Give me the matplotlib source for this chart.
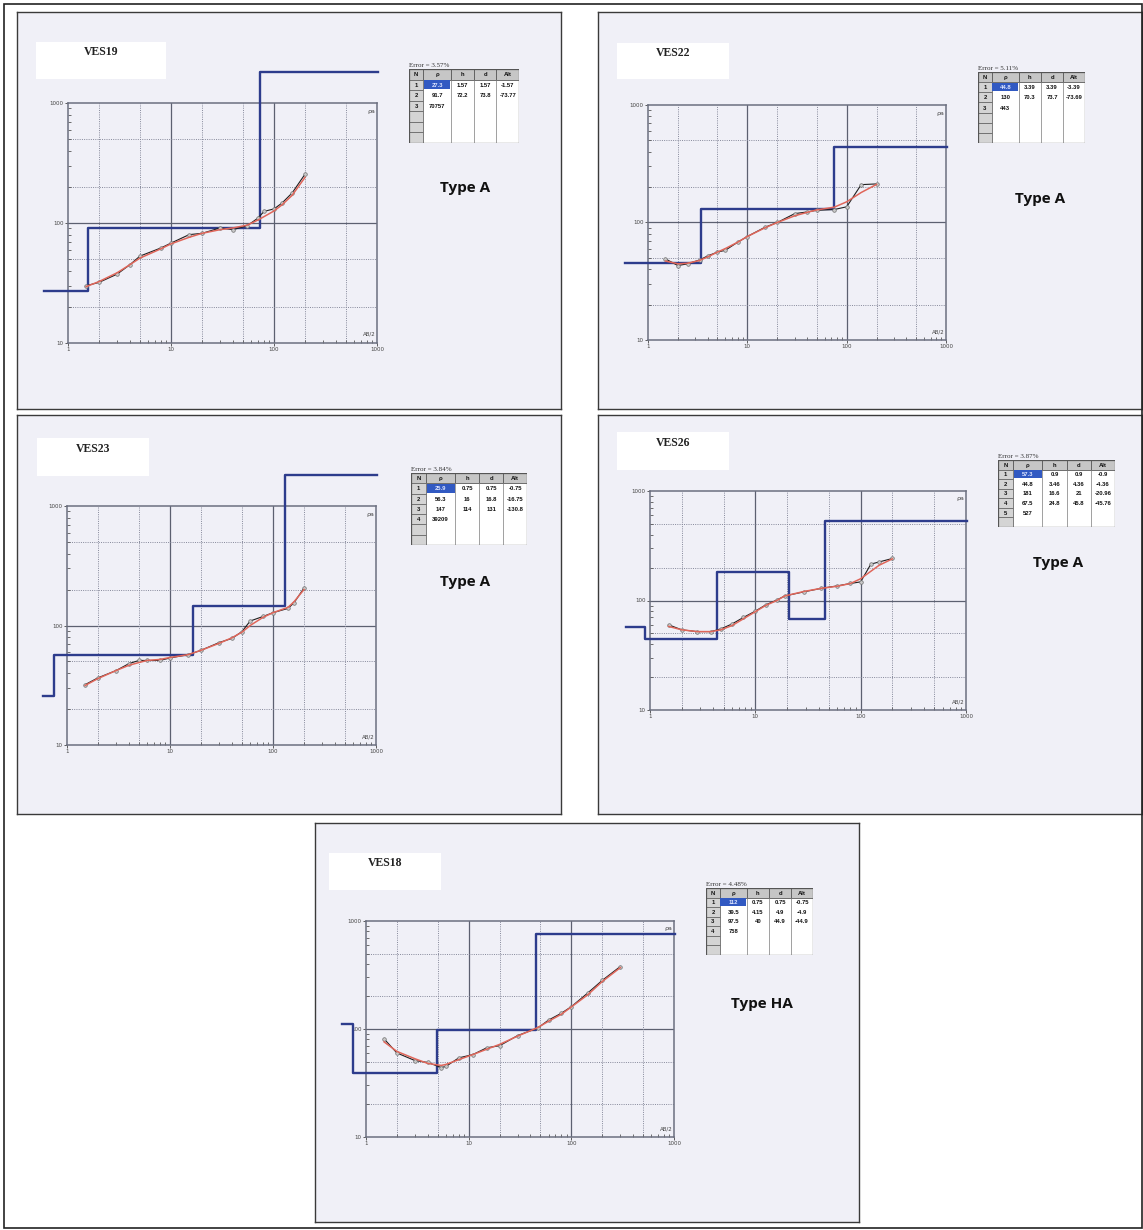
import numpy as np
import matplotlib
matplotlib.use("Agg")
import matplotlib.pyplot as plt
from matplotlib.patches import Rectangle
from matplotlib.ticker import LogLocator, NullFormatter

# ---------------- data ----------------
x_tick_vals = [1, 10, 100, 1000]
x_tick_labels = ["1", "10", "100", "1000"]
y_tick_vals = [10, 100, 1000]
y_tick_labels = ["10", "100", "1000"]
table_header = ["N", "ρ", "h", "d", "Alt"]

# VES19
ves19_ab2 = [1.5, 2, 3, 4, 5, 8, 10, 15, 20, 30, 40, 55, 70, 80, 100, 120, 150, 200]
ves19_field = [30, 32, 37.5, 45, 53, 62, 68, 80, 82, 91, 88, 95, 110, 125, 131, 147, 178, 255]
ves19_fit = [29.5, 32.5, 38.5, 45, 51, 61, 67, 76, 82, 88, 91, 96, 106, 113, 126, 142, 170, 240]
ves19_rho = [27.3, 91.7, 70757]
ves19_h = [1.57, 72.2]
ves19_d = [1.57, 73.8]
ves19_alt = [-1.57, -73.77]
ves19_error = 3.57
ves19_type = "Type A"

# VES22
ves22_ab2 = [1.5, 2, 2.5, 3.3, 4, 5, 6, 8, 10, 15, 20, 30, 40, 50, 75, 100, 140, 200]
ves22_field = [49, 43, 44.5, 48, 52, 56, 58, 68, 76, 91, 100, 119, 123, 127, 129, 136, 210, 213]
ves22_fit = [47, 44.5, 45, 47.5, 51, 56, 60, 68, 76, 90, 100, 114, 122, 128, 135, 150, 180, 211]
ves22_rho = [44.8, 130, 443]
ves22_h = [3.39, 70.3]
ves22_d = [3.39, 73.7]
ves22_alt = [-3.39, -73.69]
ves22_error = 5.11
ves22_type = "Type A"

# VES23
ves23_ab2 = [1.5, 2, 3, 4, 5, 6, 8, 10, 15, 20, 30, 40, 50, 60, 80, 100, 140, 160, 200]
ves23_field = [32, 36.5, 42, 48, 51, 51, 51, 53.5, 57, 62, 72, 78, 89, 109, 119, 128, 139, 155, 206]
ves23_fit = [31.5, 36, 42, 46.5, 49, 51, 52, 54, 57, 62, 71, 79, 88, 100, 117, 128, 142, 158, 200]
ves23_rho = [25.9, 56.3, 147, 39209]
ves23_h = [0.75, 16, 114]
ves23_d = [0.75, 16.8, 131]
ves23_alt = [-0.75, -16.75, -130.8]
ves23_error = 3.84
ves23_type = "Type A"

# VES26
ves26_ab2 = [1.5, 2, 2.8, 3.8, 4.7, 6, 7.7, 10, 12.5, 16, 19, 29, 42, 60, 80, 100, 125, 150, 200]
ves26_field = [60, 54, 52, 52, 55, 61, 70, 80, 91, 101, 110, 120, 129, 136, 143, 148, 215, 225, 242]
ves26_fit = [58, 54, 52, 52, 54, 59, 68, 79, 90, 100, 110, 121, 129, 135, 143, 158, 185, 210, 240]
ves26_rho = [57.3, 44.8, 181, 67.5, 527]
ves26_h = [0.9, 3.46, 16.6, 24.8]
ves26_d = [0.9, 4.36, 21, 45.8]
ves26_alt = [-0.9, -4.36, -20.96, -45.76]
ves26_error = 3.87
ves26_type = "Type A"

# VES18
ves18_ab2 = [1.5, 2, 3, 4, 5.4, 6, 8, 11, 15, 20, 30, 47, 60, 80, 100, 145, 200, 300]
ves18_field = [81, 60, 51, 49, 44, 45, 54, 58, 67, 70, 87, 102, 121, 140, 161, 216, 282, 379]
ves18_fit = [76, 62, 53, 48, 46, 47, 52, 58, 65, 72, 86, 103, 118, 137, 160, 208, 275, 370]
ves18_rho = [112, 39.5, 97.5, 758]
ves18_h = [0.75, 4.15, 40]
ves18_d = [0.75, 4.9, 44.9]
ves18_alt = [-0.75, -4.9, -44.9]
ves18_error = 4.48
ves18_type = "Type HA"

# model-line display extent (the software clips the last half-space)
MODEL_X_START = 0.59
MODEL_X_END = 1030
MODEL_RHO_CAP = 1800

# ---------------- style ----------------
W, H = 1143, 1230
PAPER = "#f0f0f7"
BLUE = "#2d3c8c"
RED = "#e0665a"
SPINE = "#6c7080"
GRID_SOLID = "#5c6070"
GRID_DOT = "#85889a"

fig = plt.figure(figsize=(W / 100, H / 100), dpi=100)
fig.patch.set_facecolor("white")


def fbox(x0, y0, x1, y1):
    return [x0 / W, 1 - y1 / H, (x1 - x0) / W, (y1 - y0) / H]


def fmt(v):
    return f"{v:g}"


def draw_panel(name, ab2, field, fit, rho, thick, depth, alt, err, vtype,
               pbox, abox, lbox, tbox, tpos):
    # panel (scanned sheet)
    bg = fig.add_axes(fbox(*pbox))
    bg.set_facecolor(PAPER)
    bg.set_xticks([])
    bg.set_yticks([])
    for s in bg.spines.values():
        s.set_color("#3a3a3a")
        s.set_linewidth(1.0)

    # white label box
    lb = fig.add_axes(fbox(*lbox))
    lb.set_facecolor("white")
    lb.set_xticks([])
    lb.set_yticks([])
    for s in lb.spines.values():
        s.set_visible(False)
    lb.text(0.5, 0.72, name, ha="center", va="center", fontsize=8.5,
            family="Liberation Serif", fontweight="bold", color="#222222")

    # type label
    fig.text(tpos[0] / W, 1 - tpos[1] / H, vtype, ha="center", va="center",
             fontsize=11, fontweight="bold", family="Open Sans", color="#111111")

    # plot
    ax = fig.add_axes(fbox(*abox))
    ax.set_xscale("log")
    ax.set_yscale("log")
    ax.set_xlim(1, 1000)
    ax.set_ylim(10, 1000)
    ax.patch.set_alpha(0)
    for s in ax.spines.values():
        s.set_color(SPINE)
        s.set_linewidth(1.1)
    for v in [10, 100]:
        ax.axvline(v, color=GRID_SOLID, lw=0.9, zorder=1)
    ax.axhline(100, color=GRID_SOLID, lw=0.9, zorder=1)
    for v in [2, 5, 20, 50, 200, 500]:
        ax.axvline(v, color=GRID_DOT, lw=0.7, ls=(0, (1, 1.3)), zorder=1)
    for v in [20, 50, 200, 500]:
        ax.axhline(v, color=GRID_DOT, lw=0.7, ls=(0, (1, 1.3)), zorder=1)

    ax.set_xticks(x_tick_vals)
    ax.set_xticklabels(x_tick_labels)
    ax.set_yticks(y_tick_vals)
    ax.set_yticklabels(y_tick_labels)
    ax.xaxis.set_minor_locator(LogLocator(base=10, subs=np.arange(2, 10)))
    ax.yaxis.set_minor_locator(LogLocator(base=10, subs=np.arange(2, 10)))
    ax.xaxis.set_minor_formatter(NullFormatter())
    ax.yaxis.set_minor_formatter(NullFormatter())
    ax.tick_params(axis="both", which="major", length=2, width=0.6,
                   labelsize=4, pad=1, colors="#444444")
    ax.tick_params(axis="both", which="minor", direction="in", length=2.2,
                   width=0.6, color="#555555")
    ax.text(0.995, 0.975, "ρa", transform=ax.transAxes, ha="right", va="top",
            fontsize=4.5, color="#444444")
    ax.text(0.995, 0.025, "AB/2", transform=ax.transAxes, ha="right",
            va="bottom", fontsize=4, color="#444444")

    # layered model (blue step line)
    x_edges = [MODEL_X_START] + list(depth) + [MODEL_X_END]
    rho_disp = list(np.minimum(rho, MODEL_RHO_CAP))
    ax.step(x_edges, rho_disp + [rho_disp[-1]], where="post", color=BLUE,
            lw=1.7, clip_on=False, zorder=3)

    # field data and fitted curve
    ax.plot(ab2, field, color="#1f1f1f", lw=0.8, marker="o", ms=2.6,
            mfc="#c8c8c8", mec="#707070", mew=0.5, zorder=4)
    ax.plot(ab2, fit, color=RED, lw=1.1, zorder=5)

    # result table
    tx0, ty0, tx1, ty1 = tbox
    fig.text(tx0 / W, 1 - (ty0 - 1) / H, f"Error = {err}%", ha="left",
             va="bottom", fontsize=5, family="Liberation Serif", color="#333333")
    tax = fig.add_axes(fbox(*tbox))
    tax.set_xlim(0, 1)
    tax.set_ylim(7, 0)
    tax.axis("off")
    widths = [0.13, 0.25, 0.21, 0.205, 0.205]
    edges = np.concatenate([[0], np.cumsum(widths)])
    rows = []
    for i in range(len(rho)):
        rows.append([str(i + 1), fmt(rho[i]),
                     fmt(thick[i]) if i < len(thick) else "",
                     fmt(depth[i]) if i < len(depth) else "",
                     fmt(alt[i]) if i < len(alt) else ""])
    while len(rows) < 6:
        rows.append(["", "", "", "", ""])
    grid = [table_header] + rows
    # white body
    tax.add_patch(Rectangle((0, 0), 1, 7, facecolor="white", edgecolor="none"))
    # header row cells
    for c in range(5):
        tax.add_patch(Rectangle((edges[c], 0), widths[c], 1, facecolor="#c6c6c6",
                                edgecolor="#5a5a5a", lw=0.6))
    # N column cells
    for r in range(1, 7):
        tax.add_patch(Rectangle((0, r), widths[0], 1, facecolor="#d4d4d4",
                                edgecolor="#6a6a6a", lw=0.6))
    # highlighted first resistivity
    tax.add_patch(Rectangle((edges[1] + 0.005, 1.08), widths[1] - 0.01, 0.84,
                            facecolor="#3159c2", edgecolor="none"))
    # body column separators
    for c in range(2, 5):
        tax.plot([edges[c], edges[c]], [1, 7], color="#7a7a7a", lw=0.5)
    for r, row in enumerate(grid):
        for c, txt in enumerate(row):
            tc = "#dfe6ff" if (r == 1 and c == 1) else "#111111"
            if txt:
                tax.text(edges[c] + widths[c] / 2, r + 0.55, txt, ha="center",
                         va="center", fontsize=4.2, fontweight="bold",
                         color=tc, family="Liberation Sans")
    tax.add_patch(Rectangle((0, 0), 1, 7, facecolor="none",
                            edgecolor="#555555", lw=0.9))


draw_panel("VES19", ves19_ab2, ves19_field, ves19_fit, ves19_rho, ves19_h,
           ves19_d, ves19_alt, ves19_error, ves19_type,
           (17, 12, 561, 409), (68, 103, 377, 343), (36, 42, 166, 79),
           (409, 69, 519, 143), (465, 188))
draw_panel("VES22", ves22_ab2, ves22_field, ves22_fit, ves22_rho, ves22_h,
           ves22_d, ves22_alt, ves22_error, ves22_type,
           (598, 12, 1142, 409), (648, 105, 946, 340), (617, 43, 729, 79),
           (978, 72, 1085, 143), (1040, 199))
draw_panel("VES23", ves23_ab2, ves23_field, ves23_fit, ves23_rho, ves23_h,
           ves23_d, ves23_alt, ves23_error, ves23_type,
           (17, 415, 561, 814), (67, 506, 376, 745), (37, 438, 149, 476),
           (411, 473, 527, 545), (465, 582))
draw_panel("VES26", ves26_ab2, ves26_field, ves26_fit, ves26_rho, ves26_h,
           ves26_d, ves26_alt, ves26_error, ves26_type,
           (598, 415, 1142, 814), (650, 491, 966, 710), (617, 432, 729, 470),
           (998, 460, 1115, 527), (1058, 563))
draw_panel("VES18", ves18_ab2, ves18_field, ves18_fit, ves18_rho, ves18_h,
           ves18_d, ves18_alt, ves18_error, ves18_type,
           (315, 823, 859, 1222), (366, 921, 674, 1137), (329, 853, 441, 890),
           (706, 888, 813, 955), (762, 1004))

# outer frame of the whole figure
fig.add_artist(Rectangle((4 / W, 2 / H), 1 - 5 / W, 1 - 6 / H,
                         transform=fig.transFigure, fill=False,
                         edgecolor="#222222", lw=1.2))

fig.savefig("out.png", dpi=100, facecolor="white")
